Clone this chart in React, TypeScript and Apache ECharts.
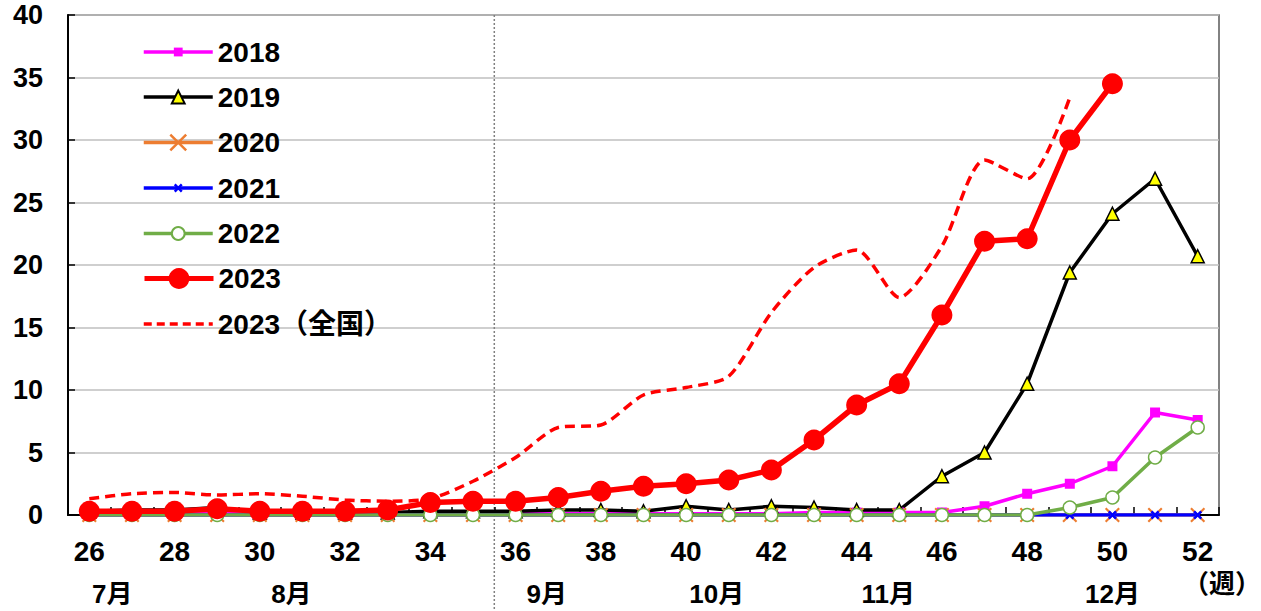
import React, { useEffect, useRef } from "react";
import * as echarts from "echarts";

const weeks = ["26","27","28","29","30","31","32","33","34","35","36","37","38","39","40","41","42","43","44","45","46","47","48","49","50","51","52"];
const yTicks = [0, 5, 10, 15, 20, 25, 30, 35, 40];

const s2018 = [0.1,0.1,0.1,0.1,0.1,0.1,0.1,0.1,0.1,0.1,0.1,0.1,0.1,0.1,0.1,0.1,0.1,0.2,0.2,0.2,0.2,0.7,1.7,2.5,3.9,8.2,7.6];
const s2019 = [0.3,0.4,0.4,0.6,0.2,0.2,0.2,0.2,0.3,0.3,0.3,0.4,0.4,0.3,0.7,0.4,0.7,0.6,0.4,0.4,3.1,5.0,10.5,19.4,24.1,26.9,20.7];
const s2020 = [0,0,0,0,0,0,0,0,0,0,0,0,0,0,0,0,0,0,0,0,0,0,0,0,0,0,0];
const s2021 = [0,0,0,0,0,0,0,0,0,0,0,0,0,0,0,0,0,0,0,0,0,0,0,0,0,0,0];
const s2022 = [0,0,0,0,0,0,0,0,0,0,0,0,0,0,0,0,0,0,0,0,0,0,0,0.6,1.4,4.6,7.0];
const s2023 = [0.3,0.3,0.3,0.5,0.3,0.3,0.3,0.4,1.0,1.1,1.1,1.4,1.9,2.3,2.5,2.8,3.6,6.0,8.8,10.5,16.0,21.9,22.1,30.0,34.5,null,null];
const s2023nat = [1.3,1.7,1.8,1.6,1.7,1.5,1.2,1.1,1.3,2.7,4.6,7.0,7.2,9.6,10.2,11.1,16.2,19.8,21.2,17.4,21.5,28.4,26.9,33.4,null,null,null];

const seriesNames = ["2018", "2019", "2020", "2021", "2022", "2023", "2023（全国）"];
const monthLabels = ["7月", "8月", "9月", "10月", "11月", "12月"];
const monthWeeks = [26.54, 30.74, 36.73, 40.72, 44.74, 50.0];
const unitLabel = "（週）";

const FONT = "'Liberation Sans', Arial, 'Noto Sans CJK JP', sans-serif";
const X_THIN = "path://M0,1L1,0L5,4L9,0L10,1L6,5L10,9L9,10L5,6L1,10L0,9L4,5Z";
const X_THICK = "path://M0,2L2,0L5,3L8,0L10,2L7,5L10,8L8,10L5,7L2,10L0,8L3,5Z";

export default function App() {
  const ref = useRef<HTMLDivElement>(null);
  useEffect(() => {
    if (!ref.current) return;
    const chart = echarts.init(ref.current, null, { renderer: "svg" });
    const legendCenters = [52, 97, 142.5, 188, 233.5, 278.5, 324];
    const legendItemH = [11, 16, 22, 11, 16, 26, 10];
    const legendLine: any[] = [
      { color: "#FF00FF", width: 3.5 },
      { color: "#000000", width: 3.5 },
      { color: "#ED7D31", width: 3.5 },
      { color: "#0000FF", width: 3.5 },
      { color: "#70AD47", width: 3.5 },
      { color: "#FF0000", width: 5 },
      { color: "#FF0000", width: 3.5, type: [8, 5] },
    ];
    const legends = seriesNames.map((n, i) => ({
      data: i === 6 ? [{ name: n, itemStyle: { opacity: 0 } }] : [n],
      left: 142,
      top: legendCenters[i] - 14,
      padding: 0,
      itemWidth: 69,
      itemHeight: legendItemH[i],
      itemGap: 0,
      selectedMode: false,
      lineStyle: legendLine[i],
      textStyle: { fontFamily: FONT, fontSize: 28, fontWeight: "bold", color: "#000", lineHeight: 28 },
    }));
    const option: any = {
      animation: false,
      backgroundColor: "#fff",
      grid: { left: 68, right: 42, top: 15, bottom: 96, show: true, borderColor: "#5a5a5a", borderWidth: 1.5, backgroundColor: "transparent" },
      legend: legends,
      xAxis: {
        type: "category",
        data: weeks,
        boundaryGap: true,
        axisLine: { lineStyle: { color: "#000", width: 2 } },
        axisTick: { show: true, inside: true, length: 8, interval: 0, alignWithLabel: false, lineStyle: { color: "#000", width: 1.5 } },
        axisLabel: { interval: 1, margin: 22, fontFamily: FONT, fontSize: 28, fontWeight: "bold", color: "#000" },
        splitLine: { show: false },
      },
      yAxis: {
        type: "value",
        min: yTicks[0],
        max: yTicks[yTicks.length - 1],
        interval: 5,
        axisLine: { show: true, lineStyle: { color: "#000", width: 2 } },
        axisTick: { show: true, inside: true, length: 7, lineStyle: { color: "#000", width: 1.5 } },
        axisLabel: { margin: 25, fontFamily: FONT, fontSize: 27, fontWeight: "bold", color: "#000" },
        splitLine: { show: true, lineStyle: { color: "#bfbfbf", width: 1.5 } },
      },
      series: [
        {
          name: seriesNames[0], type: "line", data: s2018, symbol: "rect", symbolSize: 10,
          lineStyle: { color: "#FF00FF", width: 3.5 }, itemStyle: { color: "#FF00FF" },
        },
        {
          name: seriesNames[1], type: "line", data: s2019, symbol: "triangle", symbolSize: 13,
          lineStyle: { color: "#000000", width: 3.5 }, itemStyle: { color: "#FFFF00", borderColor: "#000", borderWidth: 1.5 },
        },
        {
          name: seriesNames[2], type: "line", data: s2020, symbol: X_THIN, symbolSize: 15,
          lineStyle: { color: "#ED7D31", width: 3.5 }, itemStyle: { color: "#ED7D31" },
        },
        {
          name: seriesNames[3], type: "line", data: s2021, symbol: X_THICK, symbolSize: 9,
          lineStyle: { color: "#0000FF", width: 3.5 }, itemStyle: { color: "#0000FF" },
        },
        {
          name: seriesNames[4], type: "line", data: s2022, symbol: "circle", symbolSize: 13,
          lineStyle: { color: "#70AD47", width: 3.5 }, itemStyle: { color: "#FFFFFF", borderColor: "#70AD47", borderWidth: 1.5 },
        },
        {
          name: seriesNames[5], type: "line", data: s2023, symbol: "circle", symbolSize: 21,
          lineStyle: { color: "#FF0000", width: 5.5 }, itemStyle: { color: "#FF0000" },
        },
        {
          name: seriesNames[6], type: "line", data: s2023nat, symbol: "none", smooth: 0.25,
          lineStyle: { color: "#FF0000", width: 3.5, type: [10, 6] }, itemStyle: { color: "#FF0000" },
        },
      ],
    };
    chart.setOption(option);
    const x0 = chart.convertToPixel({ xAxisIndex: 0 }, weeks[0]) as number;
    const x1 = chart.convertToPixel({ xAxisIndex: 0 }, weeks[1]) as number;
    const step = x1 - x0;
    const xAtWeek = (w: number) => x0 + (w - Number(weeks[0])) * step;
    const sepX = (xAtWeek(35) + xAtWeek(36)) / 2;
    const graphic: any[] = [
      {
        type: "line",
        shape: { x1: sepX, y1: 15, x2: sepX, y2: 611 },
        style: { stroke: "#808080", lineWidth: 1.5, lineDash: [2, 2] },
        z: 0,
      },
      ...monthLabels.map((m, i) => ({
        type: "text",
        x: xAtWeek(monthWeeks[i]),
        y: 594,
        style: { text: m, fontFamily: FONT, fontSize: 26, fontWeight: "bold", fill: "#000", align: "center", verticalAlign: "middle" },
      })),
      {
        type: "text",
        x: 1261,
        y: 584,
        style: { text: unitLabel, fontFamily: FONT, fontSize: 26, fontWeight: "bold", fill: "#000", align: "right", verticalAlign: "middle" },
      },
    ];
    chart.setOption({ graphic });
    return () => chart.dispose();
  }, []);
  return <div ref={ref} style={{ position: "fixed", left: 0, top: 0, width: 1261, height: 611 }} />;
}
